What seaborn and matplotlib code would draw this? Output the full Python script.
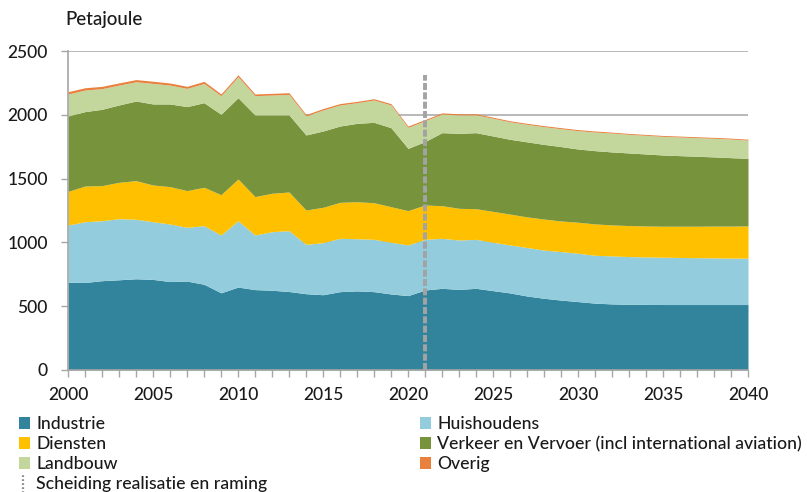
import matplotlib
matplotlib.use("Agg")
import matplotlib.pyplot as plt
from matplotlib.patches import Patch
from matplotlib.lines import Line2D
from matplotlib.legend_handler import HandlerBase
import seaborn as sns

years = list(range(2000, 2041))

industrie = [688, 686, 700, 707, 715, 710, 693, 697, 672, 605,
             650, 630, 625, 615, 598, 590, 614, 620, 614, 596,
             583, 627, 640, 632, 640, 622, 604, 580, 562, 548,
             536, 524, 518, 515, 514, 513, 513, 513, 513, 513, 513]
huishoudens = [448, 476, 470, 479, 466, 452, 451, 421, 459, 453,
               520, 428, 459, 477, 387, 408, 418, 409, 410, 405,
               397, 397, 392, 387, 384, 379, 376, 380, 378, 380,
               379, 375, 376, 374, 372, 371, 369, 367, 366, 364, 363]
diensten = [264, 280, 275, 285, 303, 288, 293, 288, 301, 316,
            327, 301, 301, 303, 269, 277, 282, 290, 287, 279,
            269, 269, 256, 248, 240, 242, 242, 240, 243, 240,
            243, 246, 243, 243, 243, 243, 245, 247, 249, 251, 253]
verkeer = [591, 583, 598, 606, 624, 635, 648, 658, 663, 630,
           637, 640, 614, 604, 588, 598, 598, 614, 630, 619,
           488, 497, 572, 588, 596, 591, 586, 588, 585, 583,
           574, 574, 572, 569, 564, 558, 553, 548, 542, 536, 530]
landbouw = [172, 169, 162, 156, 151, 161, 148, 143, 151, 146,
            165, 151, 156, 161, 149, 165, 165, 162, 175, 178,
            165, 164, 146, 144, 139, 139, 137, 137, 139, 140,
            144, 146, 148, 146, 146, 146, 146, 146, 146, 146, 143]
overig = [18, 18, 18, 17, 17, 17, 16, 16, 16, 14,
          14, 13, 13, 13, 11, 11, 11, 10, 10, 10,
          10, 9, 9, 9, 9, 8, 8, 8, 8, 8,
          8, 8, 7, 7, 7, 7, 7, 7, 7, 7, 7]

labels = ["Industrie", "Huishoudens", "Diensten",
          "Verkeer en Vervoer (incl international aviation)",
          "Landbouw", "Overig"]
colors = ["#31849B", "#93CDDD", "#FFC000", "#77933C", "#C3D69B", "#E8803E"]
split_year = 2021
split_top = 2310
split_label = "Scheiding realisatie en raming"

sns.set_theme(style="white")
plt.rcParams["font.family"] = ["Lato", "DejaVu Sans"]

TXT = "#1a1a1a"
GRAY = "#A6A6A6"

fig = plt.figure(figsize=(8.07, 4.92), dpi=100)
ax = fig.add_axes([68/807, 1-370/492, (748-68)/807, (370-51)/492])

ax.yaxis.grid(True, color="#B3B3B3", linewidth=1.3, zorder=0)
ax.set_axisbelow(True)
ax.stackplot(years, industrie, huishoudens, diensten, verkeer, landbouw, overig,
             colors=colors, linewidth=0, zorder=2)
ax.plot([split_year, split_year], [0, split_top], color="#A3A3A3", lw=2.8,
        dashes=(1.8, 0.6), zorder=3, dash_capstyle="butt")

ax.set_xlim(2000, 2040)
ax.set_ylim(0, 2500)
ax.set_xticks(range(2000, 2041, 5))
ax.set_xticks(years, minor=True)
ax.set_yticks(range(0, 2501, 500))
for s in ["top", "right"]:
    ax.spines[s].set_visible(False)
for s in ["left", "bottom"]:
    ax.spines[s].set_color(GRAY)
    ax.spines[s].set_linewidth(1.2)
ax.tick_params(axis="x", which="both", direction="out", length=5, width=1,
               color=GRAY, bottom=True, labelsize=12.5, pad=7, labelcolor=TXT)
ax.tick_params(axis="y", direction="out", length=5, width=1, color=GRAY,
               left=True, labelsize=12.5, pad=9.5, labelcolor=TXT)
for lab in ax.get_xticklabels() + ax.get_yticklabels():
    lab.set_fontweight("medium")

fig.text(65/807, 1-20/492, "Petajoule", fontsize=13.5, va="center", ha="left",
         color=TXT, fontweight="medium")


class VDotHandler(HandlerBase):
    def create_artists(self, legend, orig_handle, xdescent, ydescent, width,
                       height, fontsize, trans):
        x = -xdescent + width * 0.35
        ln = Line2D([x, x], [-ydescent - 0.45 * height, -ydescent + 1.25 * height],
                    color="#8C8C8C", lw=1.6, linestyle=(0, (0.8, 1.0)),
                    transform=trans)
        return [ln]


patches = [Patch(facecolor=c, edgecolor="none", label=l) for c, l in zip(colors, labels)]
split_handle = Line2D([], [], color="#8C8C8C", label=split_label)

common = dict(loc="upper left", frameon=False, fontsize=12.7, handlelength=0.64,
              handleheight=0.64, handletextpad=0.35, labelspacing=0.23,
              borderpad=0, borderaxespad=0,
              handler_map={split_handle: VDotHandler()})
leg1 = fig.legend(handles=[patches[0], patches[2], patches[4], split_handle],
                  bbox_to_anchor=(19/807, 1-416/492), **common)
leg2 = fig.legend(handles=[patches[1], patches[3], patches[5]],
                  bbox_to_anchor=(420/807, 1-416/492), **common)
for lg in (leg1, leg2):
    for t in lg.get_texts():
        t.set_color(TXT)
        t.set_fontweight("medium")

fig.savefig("out.png", dpi=100)
